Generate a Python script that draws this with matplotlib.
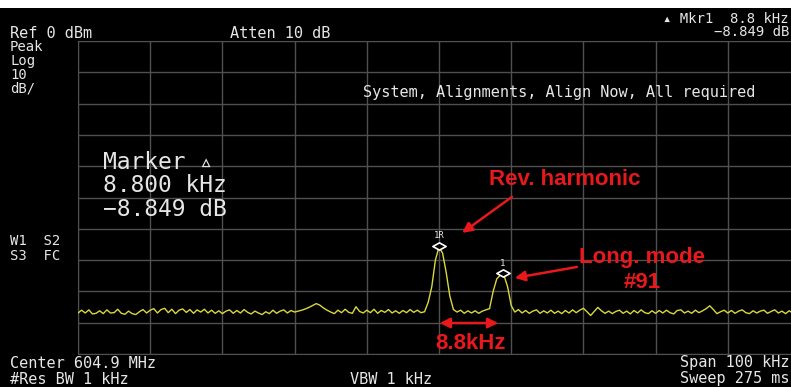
import numpy as np
import matplotlib
matplotlib.use("Agg")
import matplotlib.pyplot as plt
from matplotlib.path import Path
from matplotlib.patches import Rectangle

W, H = 791, 387
plt.rcParams['font.family'] = ['DejaVu Sans Mono', 'DejaVu Sans']

# Sweep: 201 points over a 100 kHz span, offset from centre (kHz)
freq_khz = np.linspace(-50, 50, 201)
level_dbm = [
    -86.9, -86.0, -86.9, -85.9, -87.2, -87.0, -86.2, -87.1, -85.9, -86.9,
    -86.8, -85.7, -87.0, -87.3, -86.3, -87.1, -87.4, -86.5, -85.8, -86.9,
    -86.0, -85.5, -86.9, -85.8, -85.4, -86.8, -85.7, -87.1, -86.0, -85.6,
    -86.7, -85.8, -87.0, -85.9, -86.6, -85.7, -86.9, -86.0, -87.0, -86.2,
    -87.1, -86.3, -85.9, -87.0, -86.1, -86.9, -85.8, -86.7, -87.2, -86.3,
    -86.9, -87.4, -86.5, -87.1, -86.0, -87.0, -86.3, -85.9, -86.9, -86.1,
    -86.6, -86.3, -86.0, -85.6, -85.1, -84.5, -83.9, -84.4, -85.3, -86.0,
    -86.6, -87.1, -86.0, -86.8, -85.7, -86.7, -87.0, -84.9, -86.4, -86.9,
    -86.0, -86.8, -85.7, -87.0, -86.1, -86.7, -85.8, -86.9, -86.2, -87.0,
    -86.1, -86.8, -85.8, -86.7, -86.0, -86.8, -86.5, -83.5, -78.5, -70.0,
    -65.8, -67.8, -74.0, -81.5, -85.8, -86.6, -86.0, -87.0, -86.2, -86.9,
    -86.2, -87.0, -86.3, -85.9, -85.5, -80.0, -76.0, -74.8, -74.9, -78.5,
    -84.5, -86.6, -85.8, -86.9, -86.1, -87.0, -86.3, -85.9, -87.0, -86.2,
    -86.9, -86.0, -87.0, -86.3, -87.1, -86.1, -86.9, -85.9, -86.8, -86.0,
    -85.4, -86.5, -87.7, -86.4, -85.1, -86.2, -87.0, -86.3, -87.1, -86.4,
    -86.0, -87.0, -86.3, -87.2, -86.1, -86.9, -85.9, -86.8, -87.1, -86.2,
    -87.0, -86.1, -86.9, -86.0, -86.8, -87.2, -86.1, -85.9, -86.9, -86.3,
    -87.0, -86.0, -86.8, -86.2, -85.5, -84.6, -85.8, -87.1, -86.5, -86.0,
    -86.9, -86.1, -87.0, -86.3, -85.9, -86.8, -87.1, -86.2, -86.9, -86.3,
    -86.0, -87.0, -86.4, -85.9, -86.9, -86.3, -87.1, -86.2, -86.9, -86.4,
    -86.9,
]

# Markers: 1R reference and delta marker 1
mkr_ref_khz = 0.0
mkr_ref_dbm = -65.4
mkr_delta_khz = 8.8
mkr_delta_db = -8.849

GRID = '#505050'
TXT = '#e6e6e6'
TRACE = '#d9d83c'
RED = '#e8181c'


def fx(x):
    return x / W


def fy(y):
    return 1 - y / H


fig = plt.figure(figsize=(W / 100, H / 100), dpi=100, facecolor='black')
# thin white strip above the screen
fig.patches.append(Rectangle((0, fy(8)), 1, 1 - fy(8), transform=fig.transFigure,
                             facecolor='white', edgecolor='none', zorder=-10))

ax = fig.add_axes([fx(78), fy(354), 722 / W, 313 / H])
ax.set_facecolor('black')
ax.set_xlim(-50, 50)
ax.set_ylim(-100, 0)
ax.set_xticks(np.arange(-50, 51, 10))
ax.set_yticks(np.arange(-100, 1, 10))
ax.tick_params(length=0, labelbottom=False, labelleft=False)
ax.grid(True, color=GRID, lw=1.0)
for sp in ax.spines.values():
    sp.set_color(GRID)

ax.plot(freq_khz, level_dbm, color=TRACE, lw=1.0, zorder=3)

# flattened diamond marker symbols
diamond = Path([(-1, 0), (0, 0.55), (1, 0), (0, -0.55), (-1, 0)],
               [Path.MOVETO, Path.LINETO, Path.LINETO, Path.LINETO, Path.CLOSEPOLY])
mkr_x = [mkr_ref_khz, mkr_ref_khz + mkr_delta_khz]
mkr_y = [mkr_ref_dbm, mkr_ref_dbm + mkr_delta_db]
ax.plot(mkr_x, mkr_y, ls='none', marker=diamond, ms=9.5, mfc='black',
        mec='white', mew=1.2, zorder=4)
ax.text(mkr_x[0], mkr_y[0] + 3.3, '1R', color=TXT, fontsize=6.5,
        ha='center', va='center', zorder=4)
ax.text(mkr_x[1], mkr_y[1] + 3.3, '1', color=TXT, fontsize=6.5,
        ha='center', va='center', zorder=4)

# red annotations
afont = dict(family=['Liberation Sans', 'DejaVu Sans'], weight='bold',
             color=RED, fontsize=16)
ax.text(17.4, -44.4, 'Rev. harmonic', ha='center', va='center', **afont)
ax.annotate('', xy=(3.2, -61.3), xytext=(10.1, -49.8),
            arrowprops=dict(arrowstyle='-|>', color=RED, lw=1.8,
                            mutation_scale=15, shrinkA=0, shrinkB=0))
ax.text(28.1, -69.3, 'Long. mode', ha='center', va='center', **afont)
ax.text(28.1, -77.0, '#91', ha='center', va='center', **afont)
ax.annotate('', xy=(10.5, -75.7), xytext=(19.1, -72.2),
            arrowprops=dict(arrowstyle='-|>', color=RED, lw=1.8,
                            mutation_scale=15, shrinkA=0, shrinkB=0))
ax.annotate('', xy=(0.1, -90.1), xytext=(8.2, -90.1),
            arrowprops=dict(arrowstyle='<|-|>', color=RED, lw=1.8,
                            mutation_scale=15, shrinkA=0, shrinkB=0))
ax.text(4.3, -96.6, '8.8kHz', ha='center', va='center', **afont)


def label(x, y, s, size=10, ha='left'):
    fig.text(fx(x), fy(y), s, color=TXT, fontsize=size, ha=ha, va='center')


# analyzer annotations around the graticule
label(10, 33, 'Ref 0 dBm', size=11)
label(230, 33, 'Atten 10 dB', size=11)
label(10, 47, 'Peak')
label(10, 61, 'Log')
label(10, 75, '10')
label(10, 89, 'dB/')
label(789, 19, '\u25b4 Mkr1  8.8 kHz', ha='right')
label(789, 32, '\u22128.849 dB', ha='right')
label(363, 93, 'System, Alignments, Align Now, All required', size=11)
label(103, 162, 'Marker \u25b5', size=16.5)
label(103, 186, '8.800 kHz', size=16.5)
label(103, 209, '\u22128.849 dB', size=16.5)
label(10, 241, 'W1  S2')
label(10, 256, 'S3  FC')
label(10, 363, 'Center 604.9 MHz', size=11)
label(10, 379, '#Res BW 1 kHz', size=11)
label(350, 379, 'VBW 1 kHz', size=11)
label(789, 363, 'Span 100 kHz', size=11, ha='right')
label(789, 379, 'Sweep 275 ms', size=11, ha='right')

fig.savefig('out.png', dpi=100, facecolor=fig.get_facecolor())
